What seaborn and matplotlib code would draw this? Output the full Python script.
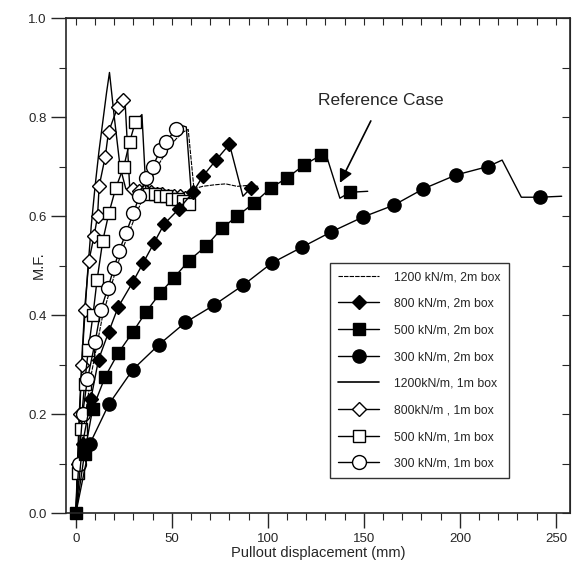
import numpy as np
import matplotlib
matplotlib.use('Agg')
import matplotlib.pyplot as plt
from matplotlib.lines import Line2D
from matplotlib.ticker import MultipleLocator, NullFormatter
import seaborn as sns

sns.set_style('ticks')
plt.rcParams['font.family'] = ['Liberation Sans', 'DejaVu Sans']

# ---- 2 m box series ----
# 1200 kN/m, 2m box (thin dotted line, no markers)
x_1200_2m = [0, 2, 5, 8, 11, 14, 17, 20, 24, 28, 32, 36, 40, 44, 48, 52, 56, 58.5, 61.5, 66, 72, 78, 84, 90, 95]
y_1200_2m = [0, 0.10, 0.20, 0.28, 0.34, 0.40, 0.44, 0.48, 0.53, 0.57, 0.61, 0.645, 0.68, 0.71, 0.735, 0.755, 0.77, 0.775, 0.655, 0.66, 0.663, 0.665, 0.66, 0.662, 0.66]

# 800 kN/m, 2m box (filled diamonds)
x_800_2m = [0, 3.5, 7.8, 11.8, 17, 22, 29.7, 35, 40.6, 46, 53.6, 61, 66, 73, 80, 87, 91]
y_800_2m = [0, 0.14, 0.23, 0.31, 0.365, 0.416, 0.467, 0.505, 0.545, 0.584, 0.614, 0.648, 0.68, 0.713, 0.745, 0.64, 0.656]
xm_800_2m = [3.5, 7.8, 11.8, 17, 22, 29.7, 35, 40.6, 46, 53.6, 61, 66, 73, 80, 91]
ym_800_2m = [0.14, 0.23, 0.31, 0.365, 0.416, 0.467, 0.505, 0.545, 0.584, 0.614, 0.648, 0.68, 0.713, 0.745, 0.656]

# 500 kN/m, 2m box (filled squares)
x_500_2m = [0, 4.5, 8.7, 15.2, 22, 29.7, 36.5, 43.8, 51, 58.9, 68, 76, 84, 92.7, 101.6, 110, 118.8, 127.6, 130, 137.5, 142.7, 152]
y_500_2m = [0, 0.12, 0.21, 0.275, 0.323, 0.366, 0.406, 0.444, 0.475, 0.51, 0.54, 0.575, 0.60, 0.626, 0.657, 0.677, 0.703, 0.723, 0.728, 0.636, 0.648, 0.65]
xm_500_2m = [0, 4.5, 8.7, 15.2, 22, 29.7, 36.5, 43.8, 51, 58.9, 68, 76, 84, 92.7, 101.6, 110, 118.8, 127.6, 142.7]
ym_500_2m = [0, 0.12, 0.21, 0.275, 0.323, 0.366, 0.406, 0.444, 0.475, 0.51, 0.54, 0.575, 0.60, 0.626, 0.657, 0.677, 0.703, 0.723, 0.648]

# 300 kN/m, 2m box (filled circles)
x_300_2m = [0, 7.3, 17.2, 29.7, 43.2, 57, 71.9, 87, 102, 117.7, 133, 149.5, 165.6, 181, 198, 214.6, 222, 232, 241.7, 253]
y_300_2m = [0, 0.14, 0.22, 0.29, 0.34, 0.385, 0.42, 0.46, 0.505, 0.537, 0.568, 0.598, 0.622, 0.655, 0.683, 0.70, 0.713, 0.638, 0.638, 0.64]
xm_300_2m = [7.3, 17.2, 29.7, 43.2, 57, 71.9, 87, 102, 117.7, 133, 149.5, 165.6, 181, 198, 214.6, 241.7]
ym_300_2m = [0.14, 0.22, 0.29, 0.34, 0.385, 0.42, 0.46, 0.505, 0.537, 0.568, 0.598, 0.622, 0.655, 0.683, 0.70, 0.638]

# ---- 1 m box series ----
# 1200 kN/m, 1m box (thin solid line)
x_1200_1m = [0, 1, 2, 4, 6, 8, 10, 12, 14, 16, 17.5, 20, 23, 26, 30, 35, 40, 45, 50, 55, 60]
y_1200_1m = [0, 0.12, 0.22, 0.36, 0.48, 0.58, 0.66, 0.73, 0.79, 0.85, 0.89, 0.80, 0.70, 0.655, 0.65, 0.655, 0.65, 0.65, 0.645, 0.64, 0.64]

# 800 kN/m, 1m box (open diamonds)
x_800_1m = [0, 1, 2, 3, 4.5, 6.8, 9.5, 11.3, 12.1, 15.3, 17, 21.8, 24.5, 25.5, 28, 30, 33, 36, 39, 42, 45, 48, 51, 54, 57, 60]
y_800_1m = [0, 0.10, 0.20, 0.30, 0.41, 0.51, 0.56, 0.60, 0.66, 0.72, 0.77, 0.82, 0.835, 0.84, 0.66, 0.655, 0.65, 0.65, 0.648, 0.645, 0.645, 0.64, 0.64, 0.64, 0.637, 0.635]
xm_800_1m = [1, 2, 3, 4.5, 6.8, 9.5, 11.3, 12.1, 15.3, 17, 21.8, 24.5, 30, 33, 36, 39, 42, 45, 48, 51, 54, 57]
ym_800_1m = [0.10, 0.20, 0.30, 0.41, 0.51, 0.56, 0.60, 0.66, 0.72, 0.77, 0.82, 0.835, 0.655, 0.65, 0.65, 0.648, 0.645, 0.645, 0.64, 0.64, 0.64, 0.637]

# 500 kN/m, 1m box (open squares)
x_500_1m = [0, 1, 2.5, 4.5, 6.5, 8.9, 11, 14, 17.2, 20.8, 25, 28, 31, 34.4, 36.5, 38, 41, 44, 47, 50, 53, 56, 59]
y_500_1m = [0, 0.08, 0.17, 0.26, 0.33, 0.40, 0.47, 0.55, 0.606, 0.657, 0.70, 0.75, 0.79, 0.805, 0.65, 0.645, 0.645, 0.64, 0.64, 0.635, 0.635, 0.63, 0.625]
xm_500_1m = [1, 2.5, 4.5, 6.5, 8.9, 11, 14, 17.2, 20.8, 25, 28, 31, 38, 41, 44, 47, 50, 53, 56, 59]
ym_500_1m = [0.08, 0.17, 0.26, 0.33, 0.40, 0.47, 0.55, 0.606, 0.657, 0.70, 0.75, 0.79, 0.645, 0.645, 0.64, 0.64, 0.635, 0.635, 0.63, 0.625]

# 300 kN/m, 1m box (open circles)
x_300_1m = [0, 1.5, 3.5, 6, 10, 13, 16.7, 19.8, 22.6, 26, 30, 33, 36.5, 40, 44, 47, 52, 55, 57.5, 60]
y_300_1m = [0, 0.10, 0.20, 0.27, 0.345, 0.41, 0.455, 0.495, 0.53, 0.565, 0.606, 0.64, 0.677, 0.70, 0.733, 0.75, 0.775, 0.783, 0.78, 0.652]
xm_300_1m = [1.5, 3.5, 6, 10, 13, 16.7, 19.8, 22.6, 26, 30, 33, 36.5, 40, 44, 47, 52]
ym_300_1m = [0.10, 0.20, 0.27, 0.345, 0.41, 0.455, 0.495, 0.53, 0.565, 0.606, 0.64, 0.677, 0.70, 0.733, 0.75, 0.775]

labels = ['1200 kN/m, 2m box', '800 kN/m, 2m box', '500 kN/m, 2m box', '300 kN/m, 2m box',
          '1200kN/m, 1m box', '800kN/m , 1m box', '500 kN/m, 1m box', '300 kN/m, 1m box']

fig = plt.figure(figsize=(5.78, 5.72), dpi=100)
ax = fig.add_axes([0.114, 0.103, 0.872, 0.8655])

def draw(x, y, xm=None, ym=None, marker=None, ms=8, fill=True, lw=1.0, ls='-'):
    sns.lineplot(x=x, y=y, ax=ax, sort=False, estimator=None, color='black',
                 linewidth=lw, linestyle=ls)
    if xm is not None:
        sns.lineplot(x=xm, y=ym, ax=ax, sort=False, estimator=None, color='black',
                     linestyle='', marker=marker, markersize=ms,
                     markerfacecolor='black' if fill else 'white',
                     markeredgecolor='black', markeredgewidth=1.0, clip_on=False)

draw(x_1200_2m, y_1200_2m, lw=0.8, ls=(0, (4, 1)))
draw(x_1200_1m, y_1200_1m, lw=1.0)
draw(x_800_1m, y_800_1m, xm_800_1m, ym_800_1m, 'D', 7.5, fill=False)
draw(x_500_1m, y_500_1m, xm_500_1m, ym_500_1m, 's', 9, fill=False)
draw(x_300_1m, y_300_1m, xm_300_1m, ym_300_1m, 'o', 10, fill=False)
draw(x_800_2m, y_800_2m, xm_800_2m, ym_800_2m, 'D', 7)
draw(x_500_2m, y_500_2m, xm_500_2m, ym_500_2m, 's', 8.5)
draw(x_300_2m, y_300_2m, xm_300_2m, ym_300_2m, 'o', 9.5)

ax.set_xlim(-5.2, 257.3)
ax.set_ylim(0, 1.0)
ax.xaxis.set_major_locator(MultipleLocator(50))
ax.xaxis.set_minor_locator(MultipleLocator(10))
ax.yaxis.set_major_locator(MultipleLocator(0.2))
ax.yaxis.set_minor_locator(MultipleLocator(0.1))
ax.yaxis.set_major_formatter(matplotlib.ticker.FormatStrFormatter('%.1f'))
ax.tick_params(which='major', direction='out', length=11, width=1.0, labelsize=9.5, pad=3)
ax.tick_params(which='minor', direction='out', length=5, width=0.8)

top = ax.secondary_xaxis('top')
top.xaxis.set_major_locator(MultipleLocator(10))
top.tick_params(direction='in', length=5, width=0.8)
top.xaxis.set_major_formatter(NullFormatter())
right = ax.secondary_yaxis('right')
right.yaxis.set_major_locator(MultipleLocator(0.1))
right.tick_params(direction='in', length=6, width=0.8)
right.yaxis.set_major_formatter(NullFormatter())
for s in ax.spines.values():
    s.set_linewidth(1.2)

ax.set_xlabel('Pullout displacement (mm)', fontsize=10.5, labelpad=1)
ax.set_ylabel('M.F.', fontsize=10.5)
ax.yaxis.set_label_coords(-0.04, 0.5)

ax.annotate('Reference Case', xy=(137.5, 0.667), xytext=(159, 0.834),
            ha='center', va='center', fontsize=12.5,
            arrowprops=dict(arrowstyle='-|>', color='black', lw=1.2,
                            mutation_scale=20, shrinkA=8, shrinkB=0))

handles = [
    Line2D([], [], color='black', lw=0.8, ls=(0, (4, 1))),
    Line2D([], [], color='black', lw=1.0, marker='D', ms=7, mfc='black', mec='black'),
    Line2D([], [], color='black', lw=1.0, marker='s', ms=8.5, mfc='black', mec='black'),
    Line2D([], [], color='black', lw=1.0, marker='o', ms=9.5, mfc='black', mec='black'),
    Line2D([], [], color='black', lw=1.2),
    Line2D([], [], color='black', lw=1.0, marker='D', ms=7.5, mfc='white', mec='black'),
    Line2D([], [], color='black', lw=1.0, marker='s', ms=9, mfc='white', mec='black'),
    Line2D([], [], color='black', lw=1.0, marker='o', ms=10, mfc='white', mec='black'),
]
leg = ax.legend(handles, labels, loc='upper left', bbox_to_anchor=(0.524, 0.505),
                fontsize=8.8, handlelength=3.4, labelspacing=1.2, handletextpad=1.2,
                borderpad=0.65, borderaxespad=0, frameon=True, fancybox=False,
                edgecolor='black')
leg.get_frame().set_linewidth(1.0)

fig.savefig('out.png', dpi=100)
